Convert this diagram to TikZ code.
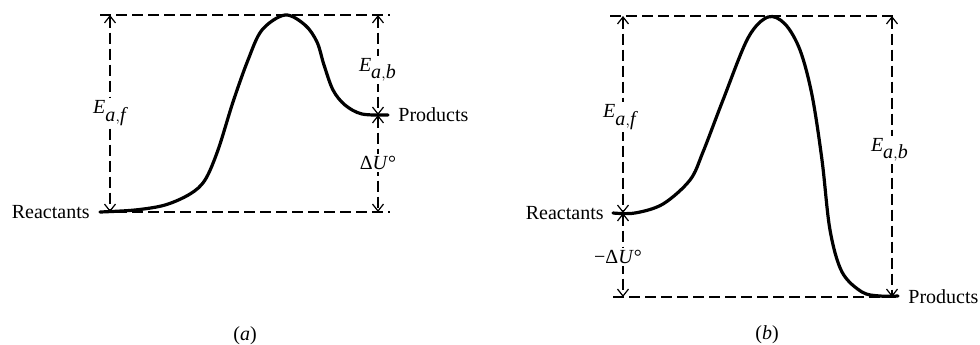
\documentclass[tikz,border=0pt]{standalone}
\usepackage{fontspec}
\setmainfont{Liberation Serif}
\usetikzlibrary{arrows.meta}
\tikzset{
  guide/.style={draw=black,line width=0.6pt,dash pattern=on 5.5pt off 2.5pt},
  span/.style={guide,{Straight Barb[length=3.5pt,width=5.5pt]}-{Straight Barb[length=3.5pt,width=5.5pt]}},
  energy/.style={draw=black,line width=1.6pt,line cap=round,line join=round},
  word/.style={font=\fontsize{10}{12}\selectfont,inner sep=1pt},
  tag/.style={word,fill=white,inner sep=1.2pt},
}
\begin{document}
\begin{tikzpicture}[x=0.5pt,y=-0.5pt]
\useasboundingbox (0,0) rectangle (980,344);
\coordinate (aTL) at (100,15);
\coordinate (aTR) at (390,15);
\coordinate (aBL) at (100,212);
\coordinate (aBR) at (390,212);
\coordinate (aF1) at (110,15);
\coordinate (aF2) at (110,212);
\coordinate (aB1) at (378,15);
\coordinate (aB2) at (378,115);
\coordinate (aB3) at (378,212);
\coordinate (aP) at (388,115);
\draw[guide] (aTL) -- (aTR);
\draw[guide] (aBL) -- (aBR);
\draw[span] (aF1) -- (aF2);
\draw[span] (aB1) -- (aB2);
\draw[span] (aB2) -- (aB3);
\draw[energy] plot[smooth,tension=0.55] coordinates {(aBL) (135,210) (165,205) (190,194) (205,180) (218,150) (233,102) (248,60) (262,30) (285,15) (305,25) (317,42) (324,65) (333,90) (345,105) (362,114) (aP)};
\node[tag] (aEf) at (110,113) {\textit{E}$_{\textit{a},\textit{f}}$};
\node[tag] (aEb) at (378,70) {\textit{E}$_{\textit{a},\textit{b}}$};
\node[tag] (aDU) at (378,163) {Δ\textit{U}°};
\node[word,anchor=east] (aRea) at (92,212) {Reactants};
\node[word,anchor=west] (aPro) at (396,115) {Products};
\node[word] (aCap) at (245,336) {(\textit{a})};
\coordinate (bTL) at (610,16);
\coordinate (bTR) at (897,16);
\coordinate (bBL) at (613,297);
\coordinate (bBR) at (897,297);
\coordinate (bF1) at (623,16);
\coordinate (bF2) at (623,213);
\coordinate (bF3) at (623,297);
\coordinate (bB1) at (892,16);
\coordinate (bB2) at (892,297);
\coordinate (bR) at (613,213);
\coordinate (bP) at (898,296);
\draw[guide] (bTL) -- (bTR);
\draw[guide] (bBL) -- (bBR);
\draw[span] (bF1) -- (bF2);
\draw[span] (bF2) -- (bF3);
\draw[span] (bB1) -- (bB2);
\draw[energy] plot[smooth,tension=0.55] coordinates {(bR) (635,213) (663,204) (690,180) (703,152) (723,100) (748,38) (768,17) (785,24) (800,50) (812,95) (822,160) (830,230) (842,272) (862,292) (880,296) (bP)};
\node[tag] (bEf) at (620,117) {\textit{E}$_{\textit{a},\textit{f}}$};
\node[tag] (bEb) at (890,150) {\textit{E}$_{\textit{a},\textit{b}}$};
\node[tag] (bDU) at (618,257) {−Δ\textit{U}°};
\node[word,anchor=east] (bRea) at (606,213) {Reactants};
\node[word,anchor=west] (bPro) at (906,297) {Products};
\node[word] (bCap) at (767,335) {(\textit{b})};
\end{tikzpicture}
\end{document}
